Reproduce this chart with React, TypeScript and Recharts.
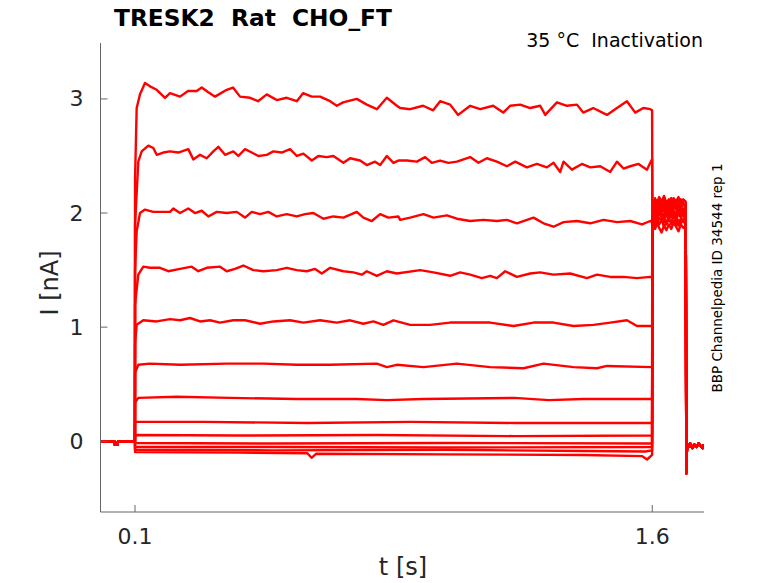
import { LineChart, Line, XAxis, YAxis } from 'recharts'

type Pt = [number, number]

// shared holding segment before the step (t < 0.1 s)
const BASE_T = [0, 0.041, 0.0415, 0.05, 0.0505, 0.0998]
const BASE_I = [-0.004, -0.004, -0.03, -0.03, -0.004, -0.004]

// step segment 0.1 .. 1.6 s, one trace per prepulse
const STEP_1: Pt[] = [
  [0.1002, 2.3], [0.1049, 2.92], [0.1145, 3.04], [0.129, 3.14], [0.1435, 3.11], [0.163, 3.08],
  [0.187, 3.01], [0.2015, 3.05], [0.2306, 3.02], [0.2538, 3.07], [0.279, 3.07], [0.2935, 3.1],
  [0.3118, 3.06], [0.3321, 3.02], [0.366, 3.08], [0.3843, 3.1], [0.4046, 3.02], [0.4337, 3.01],
  [0.4569, 2.98], [0.4821, 3.04], [0.5111, 2.99], [0.5401, 3.01], [0.5692, 2.98], [0.5874, 3.05],
  [0.6127, 3.02], [0.6368, 3.02], [0.6658, 2.98], [0.6852, 2.94], [0.7035, 2.97], [0.7432, 3.0],
  [0.7722, 2.95], [0.8013, 2.91], [0.8303, 3.01], [0.8593, 2.94], [0.8689, 2.92], [0.8979, 2.91],
  [0.9356, 2.94], [0.9646, 2.9], [0.9849, 2.98], [1.0139, 2.95], [1.0371, 2.86], [1.072, 2.94],
  [1.101, 2.91], [1.1387, 2.94], [1.1677, 2.88], [1.188, 2.94], [1.217, 2.95], [1.246, 2.92],
  [1.275, 2.94], [1.2896, 2.86], [1.3235, 2.97], [1.3525, 2.94], [1.3815, 2.95], [1.3998, 2.88],
  [1.4288, 2.92], [1.4686, 2.86], [1.4976, 2.92], [1.5266, 2.98], [1.5507, 2.88], [1.5739, 2.92],
  [1.5942, 2.91], [1.5995, 2.9],
]
const STEP_2: Pt[] = [
  [0.1002, 1.9], [0.1096, 2.45], [0.1194, 2.54], [0.1386, 2.59], [0.1531, 2.57], [0.163, 2.51],
  [0.1821, 2.53], [0.2015, 2.54], [0.2256, 2.53], [0.2546, 2.56], [0.2691, 2.47], [0.2886, 2.51],
  [0.308, 2.48], [0.3272, 2.54], [0.3417, 2.58], [0.3611, 2.51], [0.3852, 2.54], [0.3997, 2.5],
  [0.4191, 2.56], [0.4386, 2.53], [0.4577, 2.5], [0.4821, 2.51], [0.5013, 2.54], [0.5256, 2.53],
  [0.5497, 2.56], [0.5692, 2.5], [0.5883, 2.52], [0.6127, 2.46], [0.6318, 2.5], [0.6562, 2.49],
  [0.6753, 2.5], [0.7044, 2.44], [0.7238, 2.48], [0.7528, 2.46], [0.7722, 2.42], [0.7963, 2.45],
  [0.8108, 2.42], [0.8303, 2.5], [0.8494, 2.44], [0.8639, 2.46], [0.8883, 2.46], [0.9173, 2.45],
  [0.9414, 2.49], [0.9608, 2.44], [0.9849, 2.46], [1.009, 2.44], [1.0334, 2.45], [1.072, 2.49],
  [1.096, 2.44], [1.1204, 2.48], [1.1494, 2.45], [1.1784, 2.41], [1.2025, 2.45], [1.2365, 2.4],
  [1.2655, 2.43], [1.2945, 2.4], [1.3136, 2.44], [1.3331, 2.36], [1.3427, 2.45], [1.367, 2.38],
  [1.396, 2.43], [1.4201, 2.4], [1.4491, 2.41], [1.4781, 2.36], [1.4976, 2.45], [1.5167, 2.39],
  [1.5362, 2.41], [1.5602, 2.43], [1.5846, 2.38], [1.5942, 2.44], [1.5995, 2.47],
]
const STEP_3: Pt[] = [
  [0.1002, 1.5], [0.1049, 1.84], [0.1145, 2.0], [0.129, 2.03], [0.1531, 2.01], [0.1725, 2.01],
  [0.2015, 2.01], [0.2111, 2.04], [0.2306, 2.0], [0.2546, 2.04], [0.2741, 2.0], [0.2935, 2.02],
  [0.3127, 1.97], [0.337, 2.01], [0.3661, 2.0], [0.3951, 2.01], [0.4191, 1.96], [0.4386, 2.01],
  [0.4627, 1.99], [0.4867, 2.01], [0.5111, 1.97], [0.5401, 1.99], [0.5692, 1.97], [0.5932, 1.99],
  [0.6173, 2.0], [0.6463, 1.95], [0.6753, 1.97], [0.7044, 1.96], [0.7432, 2.01], [0.7624, 1.96],
  [0.7867, 1.93], [0.8108, 1.99], [0.8349, 1.96], [0.8639, 1.97], [0.8689, 1.94], [0.8979, 1.96],
  [0.9365, 1.99], [0.9655, 1.96], [1.0044, 1.98], [1.0334, 1.95], [1.072, 1.93], [1.1106, 1.94],
  [1.1494, 1.93], [1.1784, 1.94], [1.2074, 1.91], [1.2556, 1.96], [1.2846, 1.91], [1.3136, 1.88],
  [1.3427, 1.92], [1.3815, 1.93], [1.4201, 1.91], [1.4587, 1.94], [1.4976, 1.92], [1.5362, 1.93],
  [1.5701, 1.9], [1.5942, 1.93], [1.5995, 1.92],
]
const STEP_4: Pt[] = [
  [0.1002, 1.2], [0.1096, 1.46], [0.1241, 1.53], [0.1435, 1.52], [0.1725, 1.52], [0.1966, 1.49],
  [0.2306, 1.51], [0.2645, 1.53], [0.2837, 1.49], [0.308, 1.52], [0.3466, 1.53], [0.3661, 1.49],
  [0.3901, 1.51], [0.4142, 1.54], [0.4432, 1.5], [0.4722, 1.49], [0.5111, 1.5], [0.5401, 1.52],
  [0.5692, 1.5], [0.5982, 1.49], [0.6222, 1.51], [0.6417, 1.47], [0.6658, 1.52], [0.7044, 1.49],
  [0.7334, 1.48], [0.7577, 1.46], [0.7722, 1.49], [0.8013, 1.45], [0.8303, 1.49], [0.8593, 1.47],
  [0.9269, 1.5], [0.9655, 1.48], [1.0139, 1.45], [1.0429, 1.48], [1.072, 1.46], [1.1059, 1.43],
  [1.13, 1.45], [1.1494, 1.43], [1.1735, 1.49], [1.2074, 1.44], [1.246, 1.47], [1.275, 1.48],
  [1.3136, 1.46], [1.3621, 1.47], [1.4105, 1.43], [1.4396, 1.46], [1.4781, 1.44], [1.5167, 1.44],
  [1.5556, 1.43], [1.5942, 1.44], [1.5995, 1.44],
]
const STEP_5: Pt[] = [
  [0.1002, 0.85], [0.1049, 1.02], [0.1241, 1.06], [0.163, 1.05], [0.2015, 1.07], [0.2306, 1.06],
  [0.2596, 1.08], [0.2886, 1.05], [0.3176, 1.06], [0.3466, 1.04], [0.3852, 1.06], [0.4191, 1.06],
  [0.4627, 1.03], [0.5013, 1.05], [0.5497, 1.06], [0.5883, 1.04], [0.6368, 1.06], [0.6852, 1.04],
  [0.7238, 1.06], [0.7624, 1.03], [0.7914, 1.05], [0.8204, 1.02], [0.8494, 1.06], [0.8979, 1.02],
  [0.9559, 1.02], [1.0139, 1.04], [1.072, 1.04], [1.13, 1.04], [1.1976, 1.01], [1.2556, 1.04],
  [1.3136, 1.04], [1.3717, 1.01], [1.4297, 1.02], [1.4781, 1.04], [1.5266, 1.06], [1.5556, 1.01],
  [1.5942, 1.01], [1.5995, 1.01],
]
const STEP_6: Pt[] = [
  [0.1002, 0.6], [0.1096, 0.67], [0.1435, 0.68], [0.2306, 0.67], [0.3661, 0.68], [0.4722, 0.68],
  [0.5692, 0.67], [0.6658, 0.67], [0.8013, 0.68], [0.8303, 0.65], [0.8593, 0.67], [0.9365, 0.65],
  [1.0334, 0.68], [1.13, 0.65], [1.2267, 0.64], [1.2846, 0.68], [1.3717, 0.65], [1.4396, 0.64],
  [1.4687, 0.66], [1.5995, 0.65],
]
const STEP_7: Pt[] = [
  [0.1002, 0.34], [0.1096, 0.38], [0.2208, 0.39], [0.3756, 0.38], [0.5692, 0.37], [0.7432, 0.37],
  [0.8303, 0.36], [0.9365, 0.37], [1.2, 0.38], [1.3, 0.36], [1.4, 0.37], [1.5995, 0.37],
]
const STEP_8: Pt[] = [
  [0.1002, 0.17], [0.3, 0.17], [0.6, 0.16], [0.9, 0.17], [1.2, 0.16], [1.5995, 0.16],
]
const STEP_9: Pt[] = [
  [0.1002, 0.055], [0.4, 0.05], [0.8, 0.055], [1.2, 0.045], [1.5995, 0.05],
]
const STEP_10: Pt[] = [
  [0.1002, -0.015], [0.5, -0.02], [1.0, -0.015], [1.5995, -0.02],
]
const STEP_11: Pt[] = [
  [0.1002, -0.05], [0.5, -0.05], [1.0, -0.055], [1.5995, -0.05],
]
const STEP_12: Pt[] = [
  [0.1002, -0.075], [0.5, -0.08], [1.0, -0.075], [1.4, -0.085], [1.58, -0.09], [1.5995, -0.08],
]
const STEP_13: Pt[] = [
  [0.1002, -0.095], [0.4, -0.1], [0.6, -0.105], [0.612, -0.145], [0.625, -0.11], [1.0, -0.115],
  [1.4, -0.12], [1.57, -0.13], [1.585, -0.16], [1.5995, -0.12],
]

// test pulse 1.6 .. 1.7 s
const TAIL_T = [1.6005, 1.603, 1.608, 1.614, 1.62, 1.627, 1.634, 1.641, 1.648, 1.655, 1.662, 1.669, 1.676, 1.683, 1.69, 1.697]
const TAIL_1 = [1.86, 1.93, 1.89, 1.95, 1.9, 1.94, 1.88, 1.92, 1.96, 1.9, 1.93, 1.89, 1.94, 1.91, 1.95, 1.92]
const TAIL_2 = [1.84, 1.9, 1.86, 1.91, 1.87, 1.83, 1.89, 1.85, 1.9, 1.86, 1.92, 1.88, 1.84, 1.9, 1.87, 1.89]
const TAIL_3 = [1.88, 1.98, 2.02, 1.97, 2.03, 1.99, 2.04, 1.98, 2.01, 1.96, 2.02, 1.99, 2.04, 2.0, 1.97, 2.01]
const TAIL_4 = [1.9, 2.03, 2.08, 2.02, 2.07, 2.03, 2.1, 2.05, 2.01, 2.07, 2.04, 2.09, 2.03, 2.06, 2.02, 2.05]
const TAIL_5 = [1.89, 2.05, 2.11, 2.06, 2.12, 2.08, 2.04, 2.1, 2.07, 2.13, 2.06, 2.1, 2.05, 2.11, 2.08, 2.06]
const TAIL_6 = [1.92, 2.08, 2.13, 2.09, 2.14, 2.1, 2.15, 2.09, 2.12, 2.07, 2.13, 2.1, 2.14, 2.08, 2.12, 2.1]
const TAIL_7 = [1.9, 2.06, 2.1, 2.04, 2.11, 2.07, 2.12, 2.06, 2.09, 2.13, 2.08, 2.11, 2.05, 2.12, 2.09, 2.07]
const TAIL_8 = [1.88, 1.99, 2.05, 2.0, 2.06, 2.01, 1.97, 2.04, 2.0, 2.06, 2.02, 1.98, 2.05, 2.01, 2.04, 2.0]
const TAIL_9 = [1.87, 2.04, 2.09, 2.03, 2.1, 2.05, 2.11, 2.04, 2.08, 2.02, 2.09, 2.06, 2.12, 2.05, 2.08, 2.04]
const TAIL_10 = [1.85, 1.95, 2.0, 1.94, 2.01, 1.96, 1.92, 1.99, 1.95, 2.02, 1.97, 1.93, 2.0, 1.96, 1.99, 1.95]
const TAIL_11 = [1.86, 2.01, 2.07, 2.02, 2.08, 2.03, 2.09, 2.02, 2.06, 2.0, 2.07, 2.03, 2.08, 2.04, 2.01, 2.06]
const TAIL_12 = [1.84, 1.92, 1.97, 1.91, 1.96, 1.93, 1.98, 1.9, 1.95, 1.92, 1.97, 1.93, 1.89, 1.95, 1.92, 1.96]
const TAIL_13 = [1.85, 1.97, 2.03, 1.98, 2.04, 1.99, 1.95, 2.02, 1.98, 2.05, 2.0, 1.96, 2.03, 1.99, 2.02, 1.98]

// return to holding after 1.7 s
const POST_T = [1.6988, 1.6998, 1.7008, 1.702, 1.705, 1.71, 1.716, 1.722, 1.728, 1.734, 1.74, 1.746, 1.75]
const POST_I = [-0.28, -0.12, -0.06, -0.03, -0.05, -0.02, -0.06, -0.03, -0.05, -0.02, -0.04, -0.06, -0.03]

const STEPS = [STEP_1, STEP_2, STEP_3, STEP_4, STEP_5, STEP_6, STEP_7, STEP_8, STEP_9, STEP_10, STEP_11, STEP_12, STEP_13]
const TAILS = [TAIL_1, TAIL_2, TAIL_3, TAIL_4, TAIL_5, TAIL_6, TAIL_7, TAIL_8, TAIL_9, TAIL_10, TAIL_11, TAIL_12, TAIL_13]

const X_TICKS = [0.1, 1.6]
const Y_TICKS = [0, 1, 2, 3]

const zip = (ts: number[], vs: number[]) => ts.map((t, i) => ({ t, i: vs[i] }))

const traces = STEPS.map((step, k) => [
  ...zip(BASE_T, BASE_I),
  ...step.map(([t, i]) => ({ t, i })),
  ...zip(TAIL_T, TAILS[k]),
  ...zip(POST_T, POST_I),
])

const W = 778
const H = 583
const LEFT = 100.5
const TOP = 43
const RIGHT = 74
const BOTTOM = 71
const AXIS_Y = H - BOTTOM
const FONT = 'DejaVu Sans, sans-serif'
const AXIS_COLOR = '#666'
const TEXT_COLOR = '#262626'

function XTick(props: any) {
  const { x, payload } = props
  return (
    <g>
      <line x1={x} x2={x} y1={AXIS_Y} y2={AXIS_Y - 7} stroke={AXIS_COLOR} />
      <text x={x} y={AXIS_Y + 24} textAnchor="middle" dominantBaseline="central" fontSize={22} fill={TEXT_COLOR} fontFamily={FONT}>
        {payload.value}
      </text>
    </g>
  )
}

function YTick(props: any) {
  const { y, payload } = props
  return (
    <g>
      <line x1={LEFT} x2={LEFT + 7} y1={y} y2={y} stroke={AXIS_COLOR} />
      <text x={LEFT - 17} y={y} textAnchor="end" dominantBaseline="central" fontSize={22} fill={TEXT_COLOR} fontFamily={FONT}>
        {payload.value}
      </text>
    </g>
  )
}

export default function App() {
  return (
    <div style={{ position: 'absolute', left: 0, top: 0, width: W, height: H, background: '#fff' }}>
      <LineChart width={W} height={H} margin={{ top: TOP, right: RIGHT, bottom: 0, left: 0 }}>
        <XAxis
          type="number"
          dataKey="t"
          domain={[0, 1.75]}
          ticks={X_TICKS}
          height={BOTTOM}
          allowDataOverflow
          axisLine={{ stroke: AXIS_COLOR }}
          tickLine={false}
          tick={<XTick />}
        />
        <YAxis
          type="number"
          dataKey="i"
          domain={[-0.62, 3.49]}
          ticks={Y_TICKS}
          width={LEFT}
          allowDataOverflow
          axisLine={{ stroke: AXIS_COLOR }}
          tickLine={false}
          tick={<YTick />}
        />
        {traces.map((d, k) => (
          <Line
            key={k}
            data={d}
            dataKey="i"
            type="linear"
            stroke="#ff0000"
            strokeWidth={2.4}
            strokeLinejoin="round"
            dot={false}
            activeDot={false}
            isAnimationActive={false}
          />
        ))}
      </LineChart>
      <svg width={W} height={H} style={{ position: 'absolute', left: 0, top: 0, pointerEvents: 'none' }}>
        <text x={114} y={26} fontSize={23.3} fontWeight="bold" fontFamily={FONT} fill="#000">
          {'TRESK2\u00a0\u00a0Rat\u00a0\u00a0CHO_FT'}
        </text>
        <text x={703} y={47} textAnchor="end" fontSize={19} fontFamily={FONT} fill="#000">
          {'35 °C\u00a0\u00a0Inactivation'}
        </text>
        <text x={403} y={567} textAnchor="middle" dominantBaseline="central" fontSize={24} fontFamily={FONT} fill={TEXT_COLOR}>
          t [s]
        </text>
        <text
          x={50}
          y={283}
          textAnchor="middle"
          dominantBaseline="central"
          fontSize={24}
          fontFamily={FONT}
          fill={TEXT_COLOR}
          transform="rotate(-90 50 283)"
        >
          I [nA]
        </text>
        <text
          x={717}
          y={278}
          textAnchor="middle"
          dominantBaseline="central"
          fontSize={13.5}
          fontFamily={FONT}
          fill="#000"
          transform="rotate(-90 717 278)"
        >
          BBP Channelpedia ID 34544 rep 1
        </text>
      </svg>
    </div>
  )
}
